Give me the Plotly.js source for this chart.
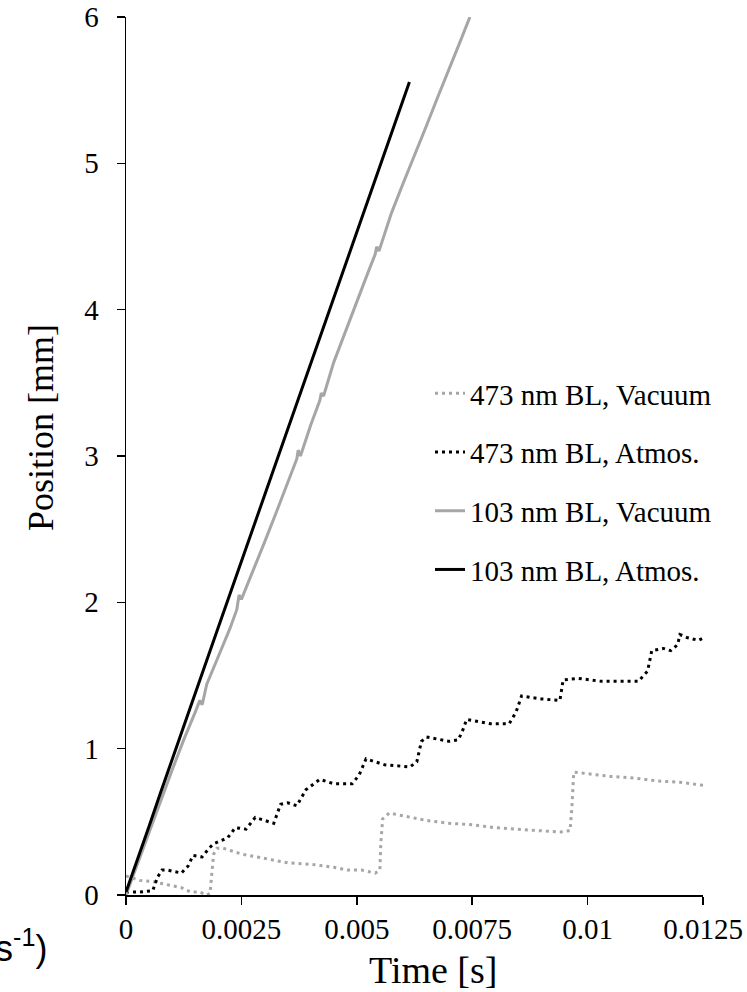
<!DOCTYPE html>
<html>
<head>
<meta charset="utf-8">
<script src="https://cdn.plot.ly/plotly-3.0.1.min.js"></script>
<style>html,body{margin:0;padding:0;background:#fff;}#chart{width:747px;height:992px;}</style>
</head>
<body>
<div id="chart"></div>
<script>
// ---- Data (time in s, position in mm) ----
const seriesNames = ["473 nm BL, Vacuum", "473 nm BL, Atmos.", "103 nm BL, Vacuum", "103 nm BL, Atmos."];

const t473Vac = [0, 0.0003, 0.0006, 0.0009, 0.0012, 0.0014, 0.0016, 0.00175, 0.00182, 0.00186, 0.0019, 0.00197, 0.0021, 0.0025, 0.003, 0.0035, 0.004, 0.0045, 0.0048, 0.0051, 0.0054, 0.0055, 0.00552, 0.00556, 0.0057, 0.006, 0.0065, 0.007, 0.0075, 0.008, 0.0085, 0.009, 0.0094, 0.00962, 0.00966, 0.0097, 0.0100, 0.0105, 0.011, 0.0115, 0.012, 0.0125];
const y473Vac = [0.13, 0.10, 0.09, 0.07, 0.05, 0.02, 0.02, 0.00, 0.01, 0.15, 0.28, 0.32, 0.32, 0.28, 0.25, 0.22, 0.21, 0.19, 0.17, 0.17, 0.15, 0.17, 0.35, 0.52, 0.56, 0.54, 0.51, 0.49, 0.48, 0.46, 0.45, 0.44, 0.43, 0.44, 0.60, 0.84, 0.83, 0.81, 0.80, 0.78, 0.77, 0.75];

const t473Atm = [0, 0.0003, 0.00058, 0.00068, 0.00078, 0.0009, 0.0012, 0.00135, 0.00145, 0.00165, 0.0018, 0.0019, 0.00205, 0.0022, 0.00237, 0.0026, 0.0028, 0.0030, 0.0032, 0.00335, 0.0035, 0.0037, 0.0039, 0.0042, 0.0045, 0.0049, 0.00505, 0.0052, 0.0056, 0.00615, 0.0063, 0.0064, 0.00651, 0.0070, 0.0072, 0.0073, 0.00738, 0.0079, 0.0083, 0.00845, 0.00857, 0.0090, 0.0094, 0.00947, 0.0098, 0.0103, 0.0111, 0.0113, 0.01139, 0.01164, 0.0118, 0.01195, 0.0120, 0.01215, 0.0124, 0.0125];
const y473Atm = [0.02, 0.02, 0.03, 0.12, 0.17, 0.17, 0.15, 0.20, 0.27, 0.26, 0.32, 0.35, 0.37, 0.39, 0.46, 0.45, 0.53, 0.51, 0.49, 0.62, 0.63, 0.61, 0.72, 0.79, 0.76, 0.76, 0.82, 0.93, 0.89, 0.875, 0.91, 1.05, 1.08, 1.05, 1.06, 1.13, 1.20, 1.17, 1.17, 1.25, 1.36, 1.34, 1.33, 1.47, 1.48, 1.46, 1.46, 1.53, 1.67, 1.685, 1.67, 1.71, 1.78, 1.76, 1.74, 1.755];

const t103Vac = [0, 0.00025, 0.0005, 0.00075, 0.001, 0.00125, 0.0015, 0.0016, 0.00165, 0.00175, 0.002, 0.00225, 0.0024, 0.00245, 0.0025, 0.00275, 0.003, 0.00325, 0.0035, 0.0037, 0.00373, 0.00378, 0.004, 0.0042, 0.00423, 0.00428, 0.0045, 0.00475, 0.005, 0.00525, 0.0054, 0.00543, 0.00548, 0.00575, 0.006, 0.00625, 0.0065, 0.00675, 0.007, 0.00725, 0.00745];
const y103Vac = [0, 0.21, 0.43, 0.64, 0.855, 1.06, 1.25, 1.33, 1.30, 1.44, 1.63, 1.82, 1.95, 2.05, 2.02, 2.21, 2.41, 2.61, 2.81, 2.98, 3.04, 3.00, 3.21, 3.38, 3.43, 3.41, 3.64, 3.85, 4.06, 4.26, 4.38, 4.43, 4.40, 4.66, 4.86, 5.05, 5.25, 5.45, 5.64, 5.84, 6.0];

const t103Atm = [0, 0.00025, 0.0005, 0.00075, 0.001, 0.00125, 0.0015, 0.00175, 0.002, 0.00225, 0.0025, 0.00275, 0.003, 0.00325, 0.0035, 0.00375, 0.004, 0.00425, 0.0045, 0.00475, 0.005, 0.00525, 0.0055, 0.00575, 0.006, 0.00614];
const y103Atm = [0.02, 0.24, 0.47, 0.70, 0.93, 1.155, 1.38, 1.605, 1.83, 2.055, 2.28, 2.505, 2.73, 2.955, 3.18, 3.405, 3.63, 3.855, 4.08, 4.305, 4.53, 4.755, 4.98, 5.205, 5.43, 5.555];

const xTickVals = [0, 0.0025, 0.005, 0.0075, 0.01, 0.0125];
const xTickText = ["0", "0.0025", "0.005", "0.0075", "0.01", "0.0125"];
const yTickVals = [0, 1, 2, 3, 4, 5, 6];

const GRAY = "#a6a6a6";

const traces = [
  {x: t473Vac, y: y473Vac, name: seriesNames[0], legendgroup: "g1", mode: "lines", line: {color: GRAY, width: 3, dash: "3px,4px"}},
  {x: t473Atm, y: y473Atm, name: seriesNames[1], legendgroup: "g2", mode: "lines", line: {color: "#000000", width: 3, dash: "3px,4px"}},
  {x: t103Vac, y: y103Vac, name: seriesNames[2], legendgroup: "g3", mode: "lines", line: {color: GRAY, width: 3}},
  {x: t103Atm, y: y103Atm, name: seriesNames[3], legendgroup: "g4", mode: "lines", line: {color: "#000000", width: 3}}
];

const L = 126, R = 44, T = 17, B = 97;
const plotW = 747 - L - R, plotH = 992 - T - B;
function px2paperX(px) { return (px - L) / plotW; }
function px2paperY(py) { return (992 - B - py) / plotH; }

const layout = {
  width: 747, height: 992,
  margin: {l: L, r: R, t: T, b: B, pad: 0},
  paper_bgcolor: "#ffffff", plot_bgcolor: "#ffffff",
  showlegend: true,
  legend: {
    x: px2paperX(430), y: px2paperY(368), xanchor: "left", yanchor: "top",
    bgcolor: "rgba(0,0,0,0)", borderwidth: 0,
    font: {family: "Liberation Serif", size: 29, color: "#000"},
    tracegroupgap: 18, traceorder: "grouped", itemwidth: 30
  },
  xaxis: {
    range: [0, 0.0125], tickvals: xTickVals, ticktext: xTickText,
    showgrid: false, zeroline: false, showline: true, linecolor: "#000", linewidth: 1.5,
    ticks: "outside", ticklen: 8, tickwidth: 1.5, tickcolor: "#000",
    tickfont: {family: "Liberation Serif", size: 29, color: "#000"}, ticklabelstandoff: 0
  },
  yaxis: {
    range: [0, 6], tickvals: yTickVals,
    showgrid: false, zeroline: false, showline: true, linecolor: "#000", linewidth: 1.5,
    ticks: "outside", ticklen: 8, tickwidth: 1.5, tickcolor: "#000",
    tickfont: {family: "Liberation Serif", size: 29, color: "#000"}, ticklabelstandoff: 12
  },
  annotations: [
    {text: "Time [s]", xref: "paper", yref: "paper", x: px2paperX(433), y: px2paperY(970), xanchor: "center", yanchor: "middle", showarrow: false, font: {family: "Liberation Serif", size: 38, color: "#000"}},
    {text: "Position [mm]", xref: "paper", yref: "paper", x: px2paperX(41), y: px2paperY(428), xanchor: "center", yanchor: "middle", textangle: -90, showarrow: false, font: {family: "Liberation Serif", size: 36, color: "#000"}},
    {text: "s<sup>-1</sup>)", xref: "paper", yref: "paper", x: px2paperX(49), y: px2paperY(946), xanchor: "right", yanchor: "middle", showarrow: false, font: {family: "Liberation Sans", size: 36, color: "#000"}}
  ]
};

Plotly.newPlot("chart", traces, layout, {displayModeBar: false, staticPlot: true});
</script>
</body>
</html>
